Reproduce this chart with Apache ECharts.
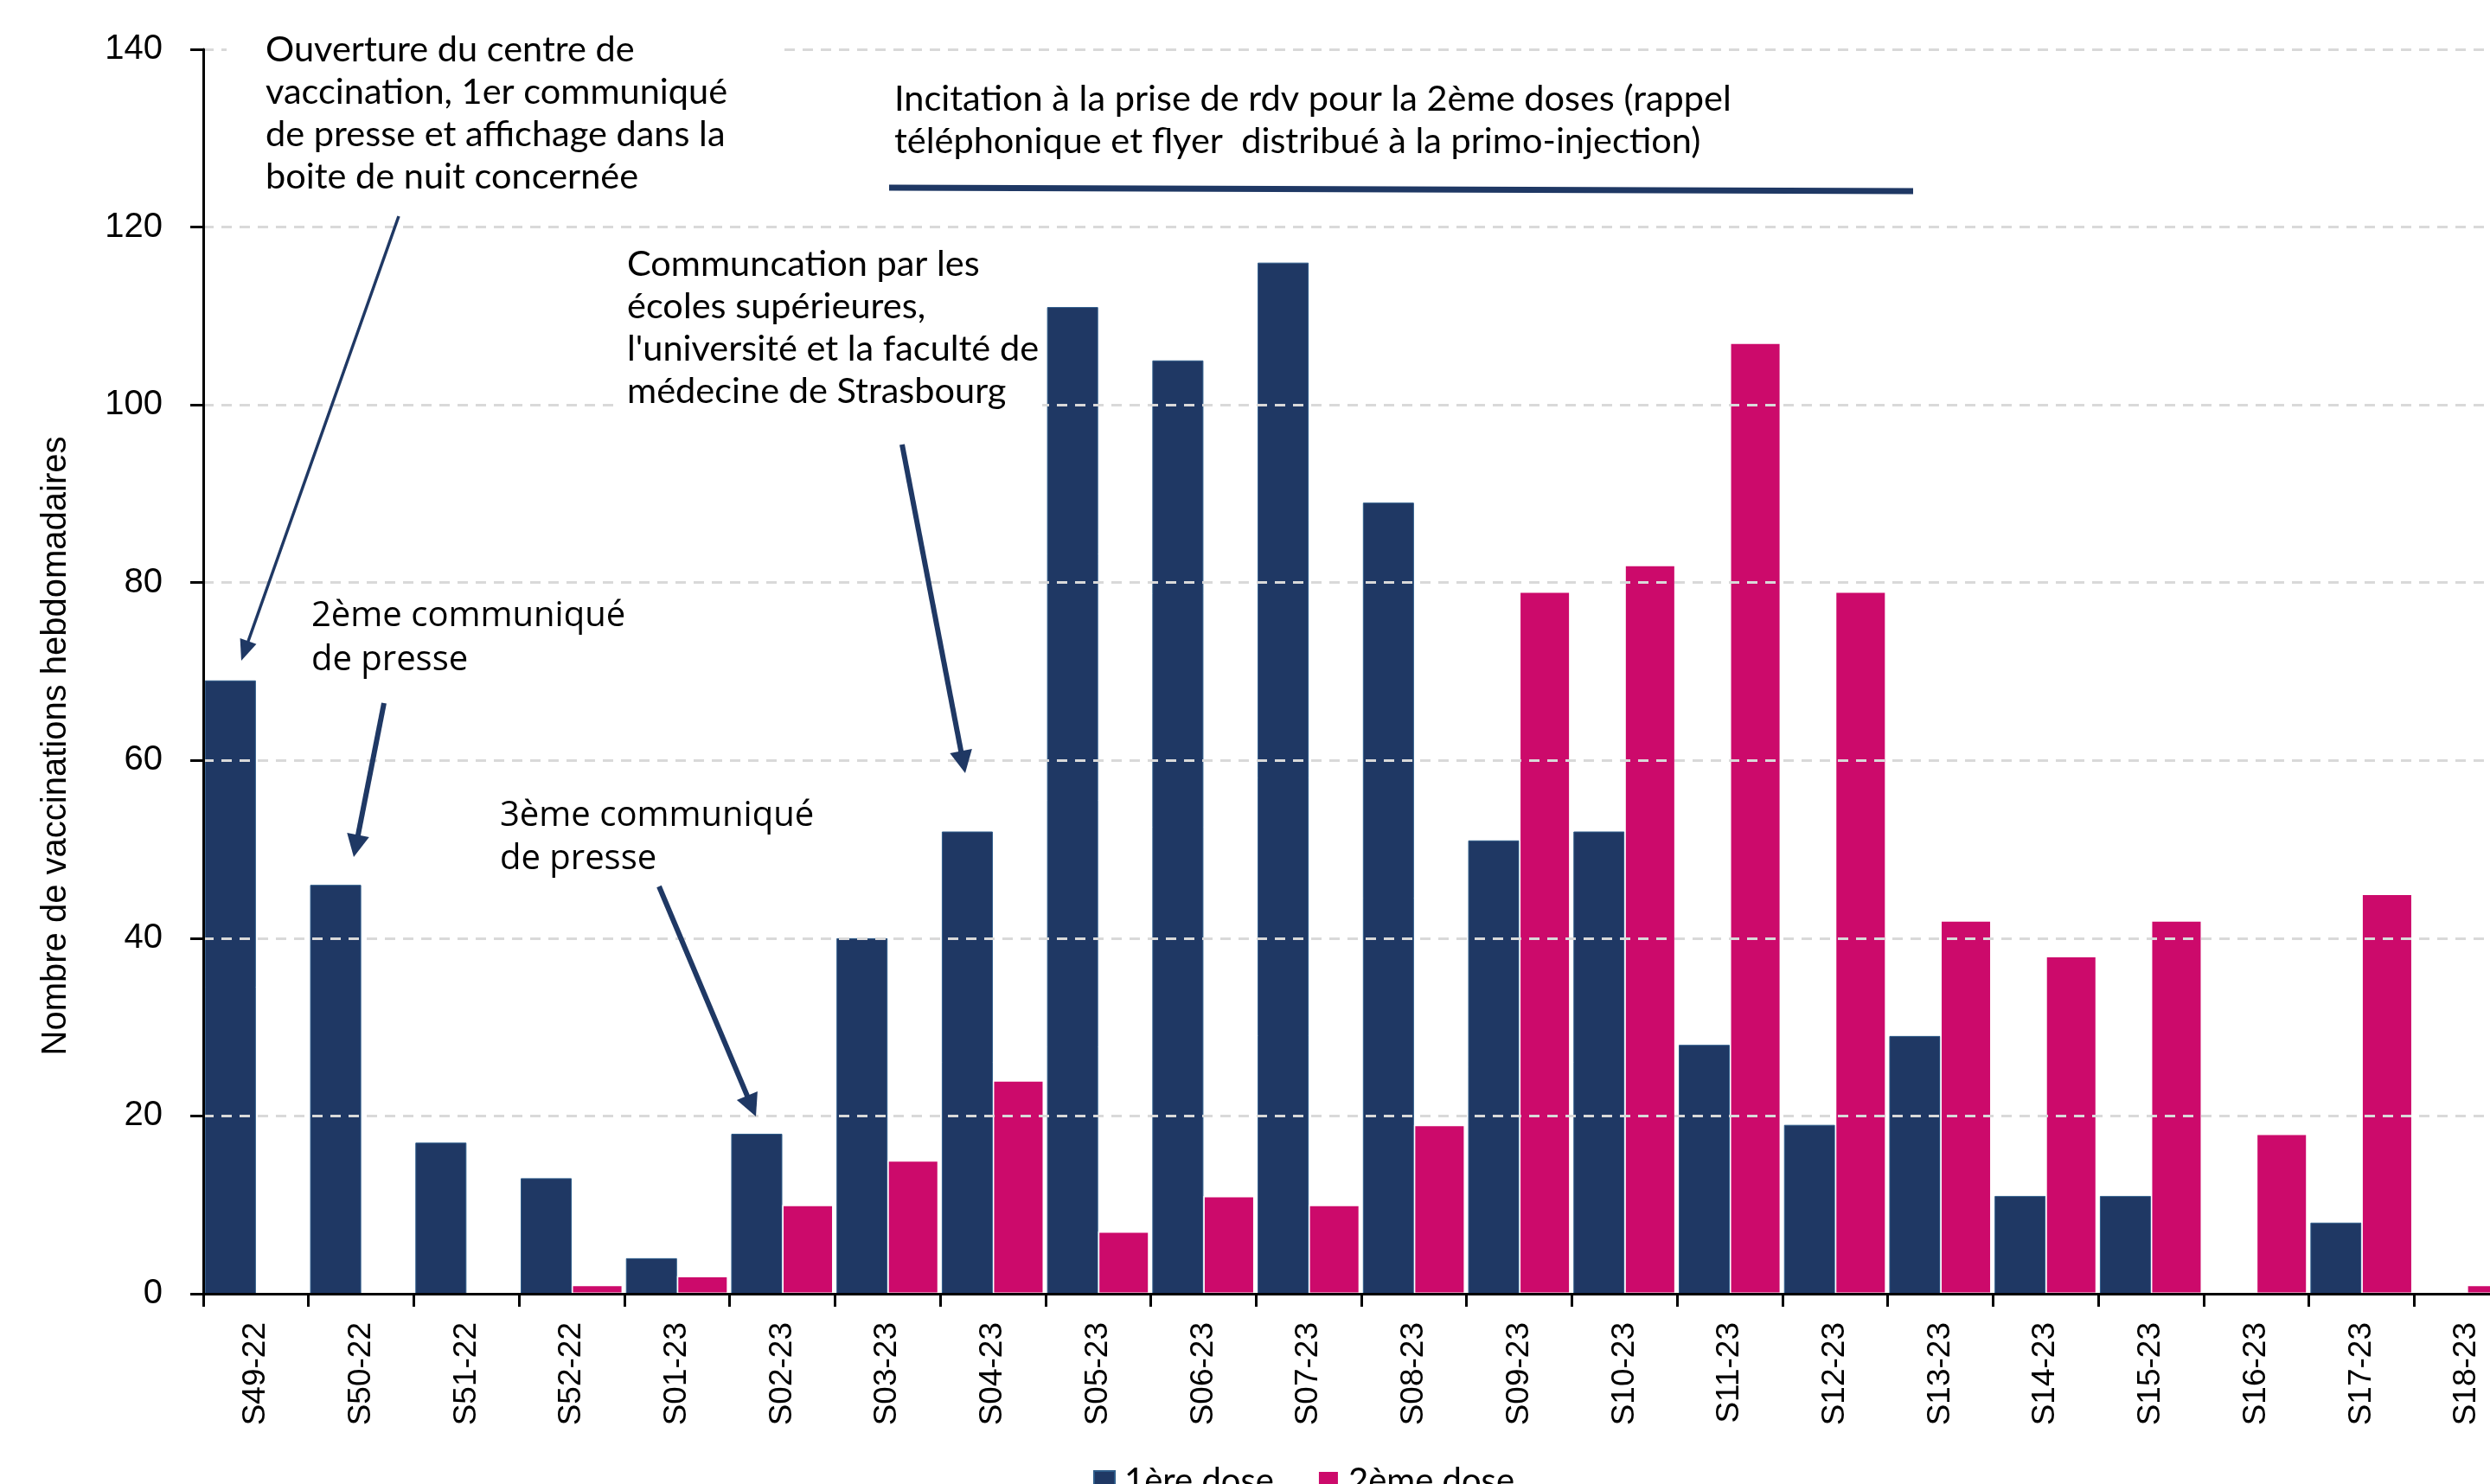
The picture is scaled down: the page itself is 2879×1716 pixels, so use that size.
<!DOCTYPE html>
<html><head><meta charset="utf-8">
<script src="https://cdn.jsdelivr.net/npm/echarts@6/dist/echarts.min.js"></script>
<style>html,body{margin:0;padding:0;background:#fff;overflow:hidden}#c{width:2913px;height:1716px}</style>
</head><body><div id="c"></div>
<script>
// ---- data ----
const categories = ['S49-22','S50-22','S51-22','S52-22','S01-23','S02-23','S03-23','S04-23','S05-23','S06-23','S07-23','S08-23','S09-23','S10-23','S11-23','S12-23','S13-23','S14-23','S15-23','S16-23','S17-23','S18-23'];
const dose1 = [69,46,17,13,4,18,40,52,111,105,116,89,51,52,28,19,29,11,11,0,8,0];
const dose2 = [0,0,0,1,2,10,15,24,7,11,10,19,79,82,107,79,42,38,42,18,45,1];
const seriesNames = ['1ère dose','2ème dose'];
const yTitle = 'Nombre de vaccinations hebdomadaires';
const yMin = 0, yMax = 140, yStep = 20;

const NAVY = '#1F3864', PINK = '#CC0A6B';
const SANS = '"Liberation Sans",Arial,sans-serif';
const ANN = 'Lato, "Open Sans", sans-serif';
const ANN2 = '"Open Sans", Lato, sans-serif';

function arrow(x1,y1,x2,y2,w,hl,hw){
  const dx=x2-x1, dy=y2-y1, L=Math.hypot(dx,dy), ux=dx/L, uy=dy/L;
  const bx=x2-ux*hl, by=y2-uy*hl, px=-uy, py=ux;
  return [
    {type:'line', z:100, shape:{x1:x1,y1:y1,x2:bx+ux*2,y2:by+uy*2}, style:{stroke:NAVY,lineWidth:w}},
    {type:'polygon', z:100, shape:{points:[[x2,y2],[bx+px*hw,by+py*hw],[bx-px*hw,by-py*hw]]}, style:{fill:NAVY}}
  ];
}
function note(x,y,text,font,lh,pad){
  return {type:'text', z:90, x:x-pad[3], y:y-pad[0], style:{text:text, font:font, fill:'#000', lineHeight:lh,
    backgroundColor:'#fff', padding:pad, textAlign:'left', textVerticalAlign:'top'}};
}

const graphics = [].concat(
  note(307,33,'Ouverture du centre de\nvaccination, 1er communiqué\nde presse et affichage dans la\nboite de nuit concernée','41.5px '+ANN,49,[6,60,6,45]),
  note(1034,90,'Incitation à la prise de rdv pour la 2ème doses (rappel\ntéléphonique et flyer  distribué à la primo-injection)','41.5px '+ANN,49,[4,10,4,10]),
  note(725,281,'Communcation par les\nécoles supérieures,\nl\'université et la faculté de\nmédecine de Strasbourg','41.5px '+ANN,49,[4,4,4,8]),
  note(360,687,'2ème communiqué\nde presse','40px '+ANN2,51,[2,6,2,6]),
  note(578,919,'3ème communiqué\nde presse','40px '+ANN2,50,[2,6,2,6]),
  [{type:'line', z:100, shape:{x1:1028,y1:217,x2:2212,y2:221}, style:{stroke:NAVY,lineWidth:7}}],
  arrow(461,250,279,764,3.5,24,10),
  arrow(444,813,409,991,6,26,13),
  arrow(1043,514,1116,894,6,26,13),
  arrow(762,1025,874,1291,6,26,13)
);

const chart = echarts.init(document.getElementById('c'));
chart.setOption({
  animation:false,
  backgroundColor:'#fff',
  grid:{left:235,right:0,top:57,bottom:220,containLabel:false},
  legend:{data:seriesNames,left:1259,top:1688,icon:'rect',itemWidth:24,itemHeight:24,itemGap:50,
    textStyle:{fontFamily:ANN,fontSize:40,color:'#000',padding:[0,0,0,6]}},
  xAxis:{type:'category',data:categories,z:5,
    axisLine:{lineStyle:{color:'#000',width:3}},
    axisTick:{show:true,length:15,lineStyle:{color:'#000',width:3}},
    axisLabel:{rotate:90,margin:33,fontSize:37,fontFamily:SANS,color:'#000'}},
  yAxis:{type:'value',min:yMin,max:yMax,interval:yStep,z:5,
    name:yTitle,nameLocation:'middle',nameRotate:90,nameGap:150,
    nameTextStyle:{fontFamily:SANS,fontSize:40,color:'#000',padding:[0,172,0,0]},
    axisLine:{show:true,lineStyle:{color:'#000',width:3}},
    axisTick:{show:true,length:15,lineStyle:{color:'#000',width:3}},
    axisLabel:{margin:47,fontSize:40,fontFamily:SANS,color:'#000'},
    splitLine:{show:true,lineStyle:{color:'#d9d9d9',width:3,type:[12,9]}}},
  series:[
    {type:'bar',name:seriesNames[0],data:dose1,barGap:'0%',barCategoryGap:'3%',
      itemStyle:{color:NAVY,borderColor:'#2E5C8A',borderWidth:1}},
    {type:'bar',name:seriesNames[1],data:dose2,
      itemStyle:{color:PINK,borderColor:'#ffffff',borderWidth:1.5}}
  ],
  graphic:graphics
});
</script></body></html>
